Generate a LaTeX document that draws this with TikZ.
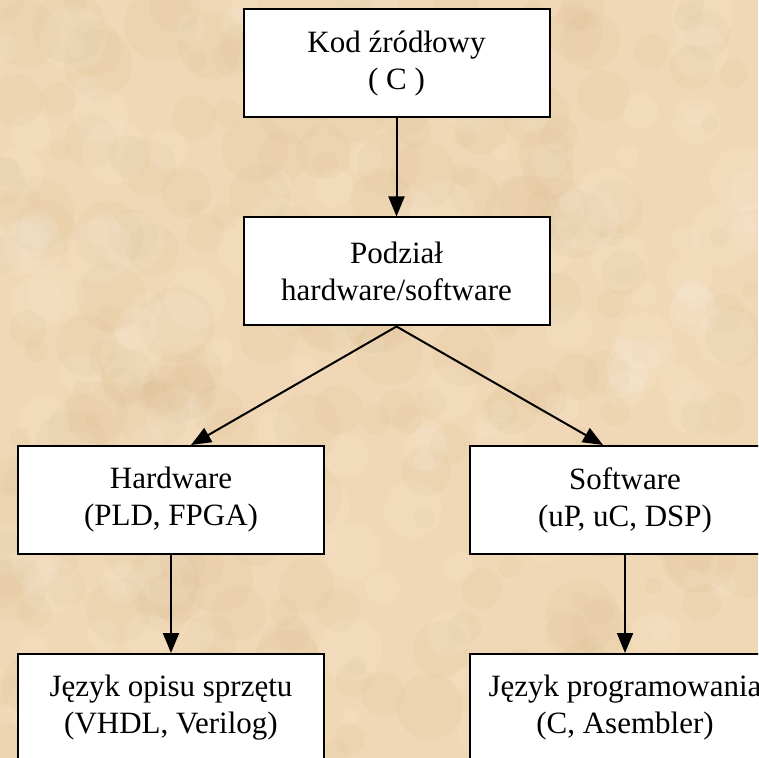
\documentclass[tikz,border=0pt]{standalone}
\usepackage{fontspec}
\setmainfont{Liberation Serif}
\usetikzlibrary{arrows.meta}
\definecolor{parchment}{RGB}{240,216,182}
\definecolor{stain}{RGB}{205,170,120}

\begin{document}
\begin{tikzpicture}[x=0.5pt,y=-0.5pt]
\tikzset{box/.style={draw,fill=white,line width=1pt,minimum width=153pt,minimum height=54pt,inner sep=0pt,align=center,font=\fontsize{15.5}{18.5}\selectfont},
  arr/.style={line width=1pt,-{Triangle[length=10pt,width=8pt]}}}

\clip (0,0) rectangle (758,758);
\fill[parchment] (0,0) rectangle (758,758);
% parchment stains
\pgfmathsetseed{11}
\foreach \i in {1,...,260}
  \fill[stain,opacity=0.07] (rnd*758,rnd*758) circle ({8+rnd*30});
\foreach \i in {1,...,160}
  \fill[white,opacity=0.08] (rnd*758,rnd*758) circle ({8+rnd*25});

\path (396.5,63.5) node[box] (kod) {Kod źródłowy\\( C )};
\path (396.5,271.5) node[box] (podzial) {Podział\\hardware/software};
\path (171,500) node[box] (hw) {Hardware\\(PLD, FPGA)};
\path (625,500) node[box,minimum width=155pt] (sw) {Software\\(uP, uC, DSP)};
\path (171,708) node[box] (jhw) {Język opisu sprzętu\\(VHDL, Verilog)};
\path (625,708) node[box,minimum width=155pt] (jsw) {Język programowania\\(C, Asembler)};

\draw[arr] (kod) -- (podzial);
\draw[arr] (podzial.south) -- ([xshift=10pt]hw.north);
\draw[arr] (podzial.south) -- ([xshift=-11pt]sw.north);
\draw[arr] (hw) -- (jhw);
\draw[arr] (sw) -- (jsw);
\end{tikzpicture}
\end{document}
